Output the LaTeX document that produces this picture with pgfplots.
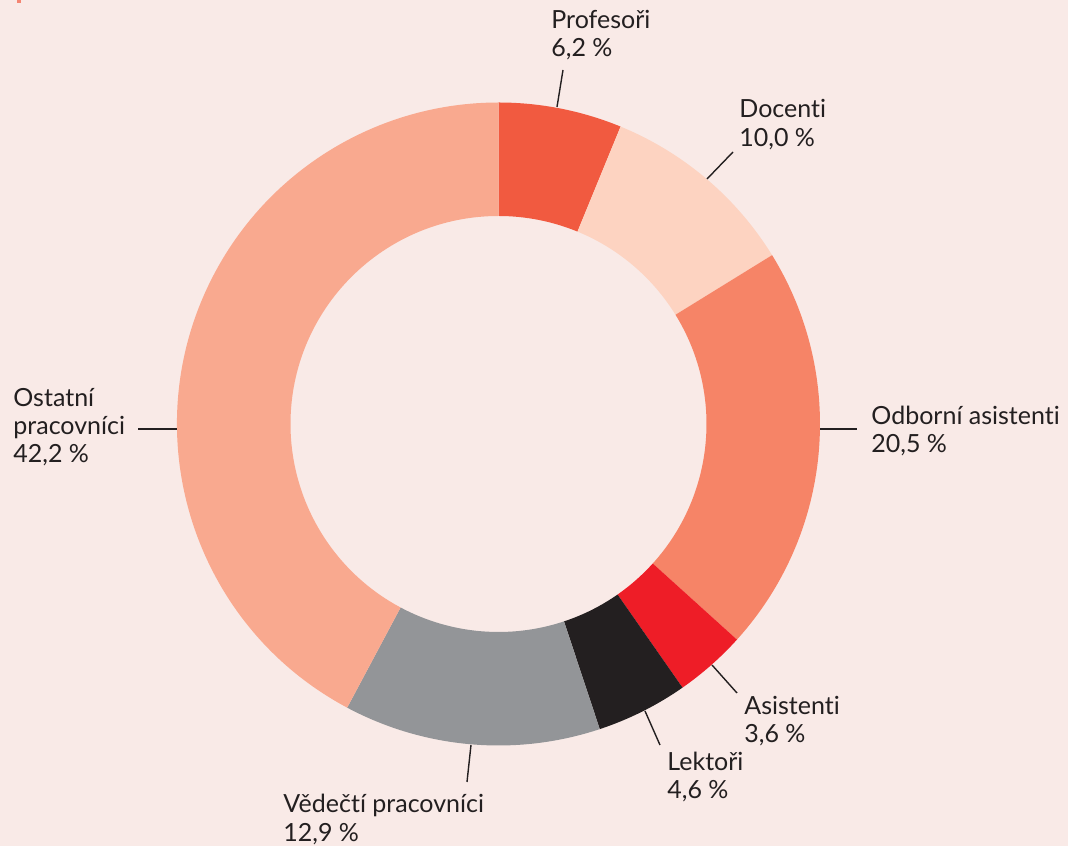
\documentclass[border=0pt]{standalone}
\usepackage{pgfplots}
\pgfplotsset{compat=1.18}
\usepackage{fontspec}
\setmainfont{Lato}[Ligatures={NoCommon}]

\definecolor{bg}{HTML}{F9EAE7}
\definecolor{txt}{HTML}{231F20}
\definecolor{cProf}{HTML}{F15A40}
\definecolor{cDoc}{HTML}{FDD3C1}
\definecolor{cOdb}{HTML}{F68467}
\definecolor{cAsi}{HTML}{EE1D27}
\definecolor{cLek}{HTML}{231F20}
\definecolor{cVed}{HTML}{939598}
\definecolor{cOst}{HTML}{F9A98F}

% ring segment: cumulative start %, cumulative end %, colour
\newcommand\seg[3]{%
  \fill[#3] ([shift={({90-3.6*#1}:160.75pt)}]axis cs:498.5,422)
    arc[start angle={90-3.6*#1}, end angle={90-3.6*#2}, radius=160.75pt]
    -- ([shift={({90-3.6*#2}:104pt)}]axis cs:498.5,422)
    arc[start angle={90-3.6*#2}, end angle={90-3.6*#1}, radius=104pt] -- cycle;}
% label line at x, baseline y
\newcommand\lbl[3]{\node[anchor=base west, inner sep=0pt, text=txt, font=\fontsize{12.5}{14}\selectfont] at (axis cs:#1,#2) {#3};}

\begin{document}
\begin{tikzpicture}
\begin{axis}[
  hide axis, scale only axis,
  width=534pt, height=423pt,
  xmin=0, xmax=1068, ymin=0, ymax=846,
  clip=false]
  \fill[bg] (axis cs:0,0) rectangle (axis cs:1068,846);
  \fill[cProf!70!bg] (axis cs:17,843) rectangle (axis cs:21,846);

  \seg{0}{6.2}{cProf}
  \seg{6.2}{16.2}{cDoc}
  \seg{16.2}{36.7}{cOdb}
  \seg{36.7}{40.3}{cAsi}
  \seg{40.3}{44.9}{cLek}
  \seg{44.9}{57.8}{cVed}
  \seg{57.8}{100}{cOst}

  \draw[txt, line width=0.7pt] (axis cs:557,739) -- (axis cs:563,776);
  \draw[txt, line width=0.7pt] (axis cs:707,667) -- (axis cs:733,694);
  \draw[txt, line width=0.7pt] (axis cs:820,417) -- (axis cs:857,417);
  \draw[txt, line width=0.7pt] (axis cs:712,181) -- (axis cs:737,153);
  \draw[txt, line width=0.7pt] (axis cs:645,135) -- (axis cs:660,101);
  \draw[txt, line width=0.7pt] (axis cs:471,101) -- (axis cs:467,64);
  \draw[txt, line width=0.7pt] (axis cs:138,417) -- (axis cs:177,417);

  \lbl{551}{817}{Profesoři}
  \lbl{551}{789}{6,2 \%}
  \lbl{739}{728}{Docenti}
  \lbl{739}{699}{10,0 \%}
  \lbl{871}{421}{Odborní asistenti}
  \lbl{871}{393}{20,5 \%}
  \lbl{744}{131}{Asistenti}
  \lbl{744}{103}{3,6 \%}
  \lbl{667}{75}{Lektoři}
  \lbl{667}{47}{4,6 \%}
  \lbl{283}{33}{Vědečtí pracovníci}
  \lbl{283}{4}{12,9 \%}
  \lbl{13}{439}{Ostatní}
  \lbl{13}{411}{pracovníci}
  \lbl{13}{383}{42,2 \%}
\end{axis}
\end{tikzpicture}
\end{document}
